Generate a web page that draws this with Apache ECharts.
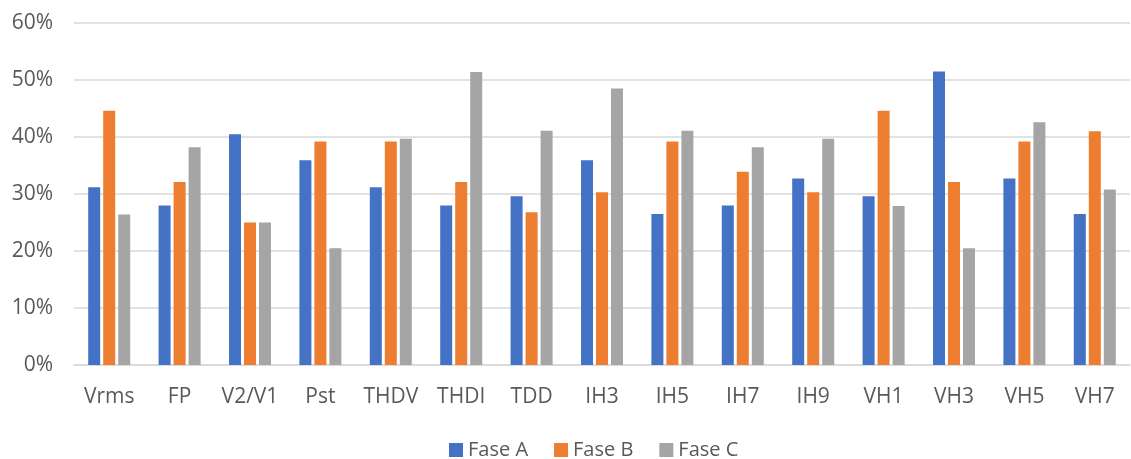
<!DOCTYPE html>
<html>
<head>
<meta charset="utf-8">
<script src="https://cdn.jsdelivr.net/npm/echarts@6/dist/echarts.min.js"></script>
<style>html,body{margin:0;padding:0;background:#fff;}#c{width:1131px;height:459px;}</style>
</head>
<body>
<div id="c"></div>
<script>
const categories = ['Vrms','FP','V2/V1','Pst','THDV','THDI','TDD','IH3','IH5','IH7','IH9','VH1','VH3','VH5','VH7'];
const faseA = [31.2, 28.0, 40.5, 35.9, 31.2, 28.0, 29.6, 35.9, 26.5, 28.0, 32.7, 29.6, 51.5, 32.7, 26.5];
const faseB = [44.6, 32.1, 25.0, 39.2, 39.2, 32.1, 26.8, 30.3, 39.2, 33.9, 30.3, 44.6, 32.1, 39.2, 41.0];
const faseC = [26.4, 38.2, 25.0, 20.5, 39.7, 51.4, 41.1, 48.5, 41.1, 38.2, 39.7, 27.9, 20.5, 42.6, 30.8];
const seriesNames = ['Fase A','Fase B','Fase C'];
const colors = ['#4472C4','#ED7D31','#A5A5A5'];

const chart = echarts.init(document.getElementById('c'));
const font = '"Open Sans", "Noto Sans", sans-serif';
const data = [faseA, faseB, faseC];
chart.setOption({
  animation: false,
  textStyle: {fontFamily: font},
  grid: {left: 74, right: 1, top: 23, bottom: 94, containLabel: false},
  legend: {
    data: seriesNames, top: 435, left: 444, itemWidth: 14, itemHeight: 14, itemGap: 26,
    icon: 'rect', textStyle: {fontSize: 20, color: '#595959', fontFamily: font}
  },
  xAxis: {
    type: 'category', data: categories,
    axisLine: {show: true, lineStyle: {color: '#d9d9d9', width: 1.5}},
    axisTick: {show: false},
    axisLabel: {interval: 0, fontSize: 21, color: '#595959', margin: 22, fontFamily: font}
  },
  yAxis: {
    type: 'value', min: 0, max: 60, interval: 10,
    axisLine: {show: false}, axisTick: {show: false},
    axisLabel: {formatter: '{value}%', fontSize: 21, color: '#595959', margin: 21, fontFamily: font},
    splitLine: {lineStyle: {color: '#d9d9d9', width: 1.5}}
  },
  series: data.map((d, i) => ({
    name: seriesNames[i], type: 'bar', data: d,
    barWidth: 12, barGap: '25%', barCategoryGap: '38%',
    itemStyle: {color: colors[i]}
  }))
});
</script>
</body>
</html>
